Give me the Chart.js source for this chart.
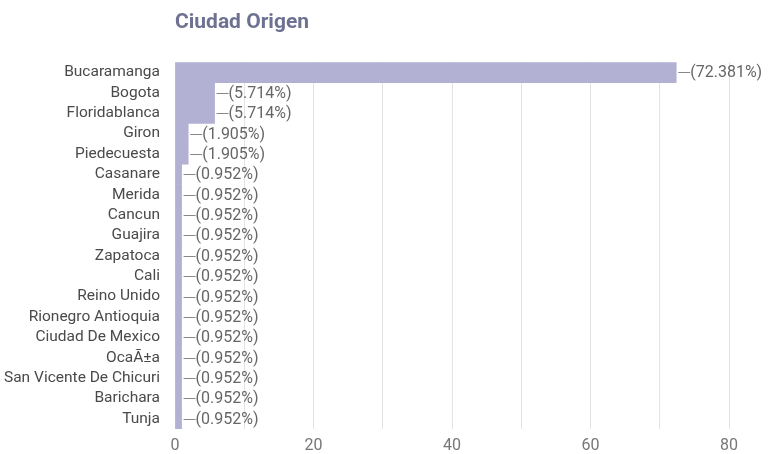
<!DOCTYPE html>
<html>
<head>
<meta charset="utf-8">
<script src="https://cdn.jsdelivr.net/npm/chart.js@4.4.0/dist/chart.umd.min.js"></script>
<style>
    html, body { margin: 0; padding: 0; background: #fff; }
    canvas { display: block; }
</style>
</head>
<body>
<canvas id="chart" width="769" height="454"></canvas>
<script>
const cities = [
    'Bucaramanga', 'Bogota', 'Floridablanca', 'Giron', 'Piedecuesta', 'Casanare',
    'Merida', 'Cancun', 'Guajira', 'Zapatoca', 'Cali', 'Reino Unido',
    'Rionegro Antioquia', 'Ciudad De Mexico', 'OcaÃ±a', 'San Vicente De Chicuri',
    'Barichara', 'Tunja'
];
const percentages = [
    72.381, 5.714, 5.714, 1.905, 1.905, 0.952,
    0.952, 0.952, 0.952, 0.952, 0.952, 0.952,
    0.952, 0.952, 0.952, 0.952, 0.952, 0.952
];
const xTicks = [0, 20, 40, 60, 80];

// leader line + "(value%)" to the right of each bar
const barLabels = {
    id: 'barLabels',
    afterDatasetsDraw(chart) {
        const ctx = chart.ctx;
        const meta = chart.getDatasetMeta(0);
        ctx.save();
        ctx.font = '16px Roboto';
        ctx.fillStyle = '#666';
        ctx.strokeStyle = '#888';
        ctx.lineWidth = 1;
        ctx.textBaseline = 'middle';
        meta.data.forEach((bar, i) => {
            const x = bar.x + 2;
            const y = Math.round(bar.y) + 0.5;
            ctx.beginPath();
            ctx.moveTo(x, y);
            ctx.lineTo(x + 12, y);
            ctx.stroke();
            ctx.fillText('(' + percentages[i].toFixed(3) + '%)', x + 12, bar.y + 1);
        });
        ctx.restore();
    }
};

new Chart(document.getElementById('chart'), {
    type: 'bar',
    data: {
        labels: cities,
        datasets: [{
            data: percentages,
            backgroundColor: '#b2b1d3',
            barPercentage: 1,
            categoryPercentage: 1
        }]
    },
    options: {
        indexAxis: 'y',
        responsive: false,
        animation: false,
        layout: { padding: { top: 0, right: 40, bottom: 0, left: 0 } },
        plugins: {
            legend: { display: false },
            tooltip: { enabled: false },
            title: {
                display: true,
                fullSize: false,
                text: 'Ciudad Origen',
                align: 'start',
                color: '#6e7192',
                font: { family: 'Roboto', size: 21, weight: 'bold' },
                padding: { top: 10, bottom: 27 }
            }
        },
        scales: {
            x: {
                min: 0,
                max: 80,
                grid: { color: '#e3e3e3', drawTicks: false },
                border: { display: false },
                afterFit(scale) { scale.height = 25; },
                ticks: {
                    stepSize: 10,
                    autoSkip: false,
                    padding: 7,
                    color: '#777',
                    font: { family: 'Roboto', size: 16 },
                    callback: v => xTicks.includes(v) ? v : ''
                }
            },
            y: {
                grid: { display: false },
                border: { display: false },
                afterFit(scale) { scale.width = 175; },
                ticks: {
                    autoSkip: false,
                    color: '#4a4a4a',
                    padding: 7,
                    font: { family: 'Roboto', size: 15.5 }
                }
            }
        }
    },
    plugins: [barLabels]
});
</script>
</body>
</html>
